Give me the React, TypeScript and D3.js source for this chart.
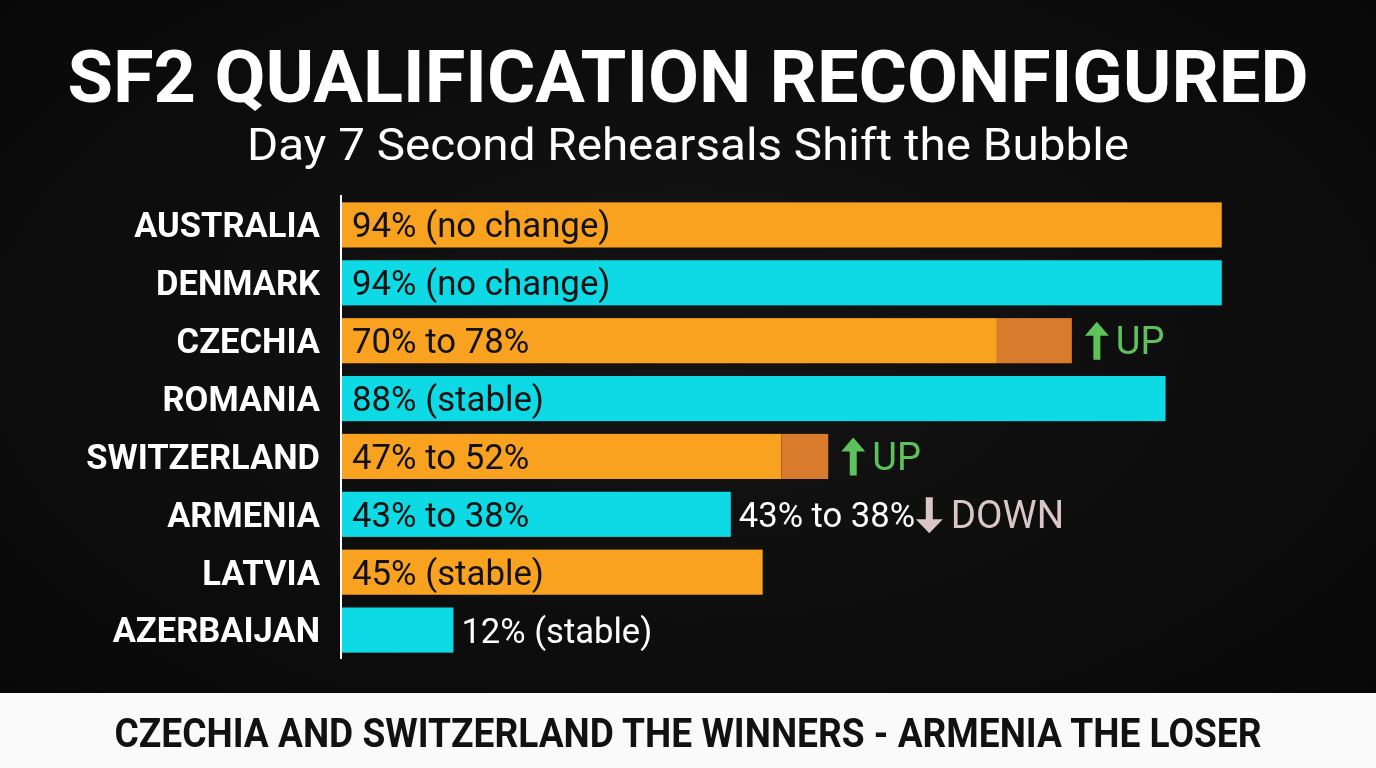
import React from "react";
import * as d3 from "d3";

const countries = ["AUSTRALIA", "DENMARK", "CZECHIA", "ROMANIA", "SWITZERLAND", "ARMENIA", "LATVIA", "AZERBAIJAN"];
const baseValues = [94, 94, 70, 88, 47, 41.6, 45, 12];
const newValues = [94, 94, 78, 88, 52, 41.6, 45, 12];
const barLabels = ["94% (no change)", "94% (no change)", "70% to 78%", "88% (stable)", "47% to 52%", "43% to 38%", "45% (stable)", "12% (stable)"];
const trends = ["", "", "UP", "", "UP", "DOWN", "", ""];
const outsideLabels = ["", "", "", "", "", "43% to 38%", "", "12% (stable)"];
const barColors = ["orange", "cyan", "orange", "cyan", "orange", "cyan", "orange", "cyan"];

const TITLE = "SF2 QUALIFICATION RECONFIGURED";
const SUBTITLE = "Day 7 Second Rehearsals Shift the Bubble";
const FOOTER = "CZECHIA AND SWITZERLAND THE WINNERS - ARMENIA THE LOSER";

const W = 1376;
const H = 768;
const COLORS: Record<string, string> = { orange: "#F8A21F", cyan: "#0DDAE4" };
const GAIN = "#D97B2C";
const UPC = "#5EC25A";
const DOWNC = "#D9C6C6";
const FONT = "Roboto, 'Noto Sans', sans-serif";

export default function App() {
  const x = d3.scaleLinear().domain([0, 100]).range([341, 1278]);
  const y = d3.scaleBand<string>().domain(countries).range([196, 659]).paddingInner(0.22).paddingOuter(0.11);
  const bh = y.bandwidth();

  return (
    <svg width={W} height={H} style={{ position: "fixed", left: 0, top: 0, display: "block" }} fontFamily={FONT}>
      <defs>
        <radialGradient id="bg" cx="50%" cy="45%" r="75%">
          <stop offset="0%" stopColor="#141414" />
          <stop offset="100%" stopColor="#070707" />
        </radialGradient>
      </defs>
      <rect x={0} y={0} width={W} height={H} fill="url(#bg)" />
      <text x={688} y={102} textAnchor="middle" fill="#fff" fontWeight={700} fontSize={72} textLength={1241} lengthAdjust="spacingAndGlyphs">{TITLE}</text>
      <text x={688} y={160} textAnchor="middle" fill="#fff" fontWeight={400} fontSize={44} textLength={882} lengthAdjust="spacingAndGlyphs">{SUBTITLE}</text>

      {countries.map((c, i) => {
        const y0 = y(c)!;
        const cy = y0 + bh / 2;
        const x0 = x(0);
        const xb = x(baseValues[i]);
        const xn = x(newValues[i]);
        const gain = newValues[i] > baseValues[i];
        const inside = outsideLabels[i] === "" || trends[i] === "DOWN";
        const trendX = xn + 13;
        return (
          <g key={c}>
            <text x={320} y={cy} dy="0.36em" textAnchor="end" fill="#fff" fontWeight={700} fontSize={34.5}>{c}</text>
            <rect x={x0} y={y0} width={xb - x0} height={bh} fill={COLORS[barColors[i]]} />
            {gain && <rect x={xb} y={y0} width={xn - xb} height={bh} fill={GAIN} />}
            {inside && (
              <text x={x0 + 11} y={cy} dy="0.36em" fill="#111" fontSize={34.8}>{barLabels[i]}</text>
            )}
            {outsideLabels[i] && (
              <text x={xn + 8} y={cy} dy="0.36em" fill="#fff" fontSize={34.6}>{outsideLabels[i]}</text>
            )}
            {trends[i] === "UP" && (
              <g>
                <path
                  d={`M${trendX + 12},${cy - 19} L${trendX + 24},${cy - 5} L${trendX + 15.5},${cy - 5} L${trendX + 15.5},${cy + 19} L${trendX + 8.5},${cy + 19} L${trendX + 8.5},${cy - 5} L${trendX},${cy - 5} Z`}
                  fill={UPC}
                />
                <text x={trendX + 31} y={cy} dy="0.36em" fill={UPC} fontSize={38}>UP</text>
              </g>
            )}
            {trends[i] === "DOWN" && (() => {
              const ax = xn + 185;
              return (
                <g>
                  <path
                    d={`M${ax + 13.5},${cy + 19} L${ax},${cy + 5} L${ax + 10},${cy + 5} L${ax + 10},${cy - 17} L${ax + 17},${cy - 17} L${ax + 17},${cy + 5} L${ax + 27},${cy + 5} Z`}
                    fill={DOWNC}
                  />
                  <text x={ax + 35} y={cy} dy="0.36em" fill={DOWNC} fontSize={38.5}>DOWN</text>
                </g>
              );
            })()}
          </g>
        );
      })}

      <line x1={x(0)} x2={x(0)} y1={195} y2={659} stroke="#fff" strokeWidth={2} />

      <rect x={0} y={693} width={W} height={H - 693} fill="#FAFAFA" />
      <text x={688} y={747} textAnchor="middle" fill="#111" fontWeight={700} fontSize={40} textLength={1147} lengthAdjust="spacingAndGlyphs">{FOOTER}</text>
    </svg>
  );
}
